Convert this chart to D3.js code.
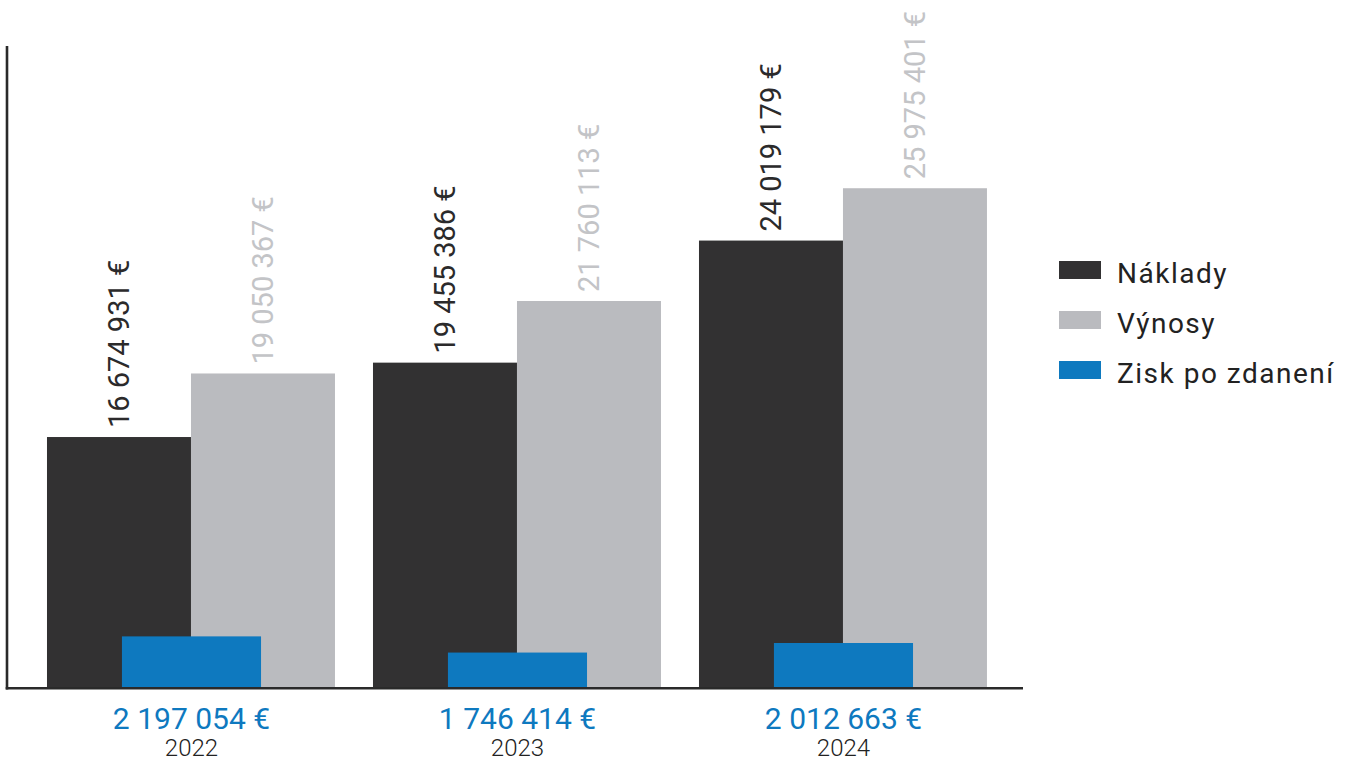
<!DOCTYPE html>
<html>
<head>
<meta charset="utf-8">
<script src="https://cdn.jsdelivr.net/npm/d3@7"></script>
<style>
  body { margin: 0; background: #fff; }
  svg { display: block; font-family: Roboto, "Noto Sans", sans-serif; }
</style>
</head>
<body>
<svg id="chart" width="1347" height="762"></svg>
<script>
// data
const years = ['2022', '2023', '2024'];
const naklady = [16674931, 19455386, 24019179];
const vynosy = [19050367, 21760113, 25975401];
const zisk = [2197054, 1746414, 2012663];
const legendLabels = ['Náklady', 'Výnosy', 'Zisk po zdanení'];

const colors = { naklady: '#323132', vynosy: '#babbbf', zisk: '#0e79bf' };

const fmt = d3.formatLocale({ thousands: ' ', grouping: [3], decimal: ',', currency: ['', ' €'] });
const money = v => fmt.format(',d')(v) + ' €';

const svg = d3.select('#chart');

const baseY = 687;

// group positions
let x = d3.scaleBand().domain(years).range([7, 1023])
  .paddingInner(0.1166).paddingOuter(0.1166).align(0.526);
let bw = x.bandwidth();

// the picture does not start its bars at zero
let y = d3.scaleLinear().domain([7.33e6, 30e6]).range([baseY, baseY - 26.75e-6 * (30e6 - 7.33e6)]);
let yZisk = d3.scaleLinear().domain([0.787e6, 3e6]).range([baseY, baseY - 35.9e-6 * (3e6 - 0.787e6)]);

let rows = years.map((yr, i) => ({ year: yr, n: naklady[i], v: vynosy[i], z: zisk[i] }));

let g = svg.selectAll('.grp').data(rows).enter().append('g').attr('class', 'grp');

// Náklady
g.append('rect')
  .attr('x', d => x(d.year))
  .attr('y', d => y(d.n))
  .attr('width', bw / 2)
  .attr('height', d => baseY - y(d.n) + 1)
  .attr('fill', colors.naklady);

// Výnosy
g.append('rect')
  .attr('x', d => x(d.year) + bw / 2)
  .attr('y', d => y(d.v))
  .attr('width', bw / 2)
  .attr('height', d => baseY - y(d.v) + 1)
  .attr('fill', colors.vynosy);

// Zisk, drawn over the middle of the group
let zw = bw * 0.483;
g.append('rect')
  .attr('x', d => x(d.year) + bw / 2 - zw / 2 + 0.5)
  .attr('y', d => yZisk(d.z))
  .attr('width', zw)
  .attr('height', d => baseY - yZisk(d.z) + 1)
  .attr('fill', colors.zisk);

// rotated value labels
g.append('text')
  .attr('transform', d => `translate(${x(d.year) + bw / 4},${y(d.n) - 9}) rotate(-90)`)
  .attr('dy', '0.355em')
  .attr('font-size', 29)
  .attr('fill', '#2b2a2b')
  .text(d => money(d.n));

g.append('text')
  .attr('transform', d => `translate(${x(d.year) + bw * 3 / 4},${y(d.v) - 9}) rotate(-90)`)
  .attr('dy', '0.355em')
  .attr('font-size', 29)
  .attr('fill', '#c3c4c7')
  .text(d => money(d.v));

// profit + year under the axis
g.append('text')
  .attr('x', d => x(d.year) + bw / 2 + 0.5)
  .attr('y', 729)
  .attr('text-anchor', 'middle')
  .attr('font-size', 30)
  .attr('fill', colors.zisk)
  .text(d => money(d.z));

g.append('text')
  .attr('x', d => x(d.year) + bw / 2 + 0.5)
  .attr('y', 756)
  .attr('text-anchor', 'middle')
  .attr('font-size', 24)
  .attr('font-weight', 300)
  .attr('fill', '#222')
  .text(d => d.year);

// axis lines
svg.append('line')
  .attr('x1', 7).attr('x2', 7).attr('y1', 46).attr('y2', 689.5)
  .attr('stroke', '#2a2a2a').attr('stroke-width', 2.6);
svg.append('line')
  .attr('x1', 5.7).attr('x2', 1023).attr('y1', 688.2).attr('y2', 688.2)
  .attr('stroke', '#2a2a2a').attr('stroke-width', 2.6);

// legend
let legend = svg.selectAll('.leg')
  .data(legendLabels)
  .enter().append('g')
  .attr('class', 'leg')
  .attr('transform', (d, i) => `translate(1059,${261 + i * 50})`);

legend.append('rect')
  .attr('width', 42).attr('height', 18)
  .attr('fill', (d, i) => [colors.naklady, colors.vynosy, colors.zisk][i]);

legend.append('text')
  .attr('x', 58).attr('y', 22)
  .attr('font-size', 28)
  .attr('letter-spacing', 1.5)
  .attr('fill', '#222')
  .text(d => d);
</script>
</body>
</html>
